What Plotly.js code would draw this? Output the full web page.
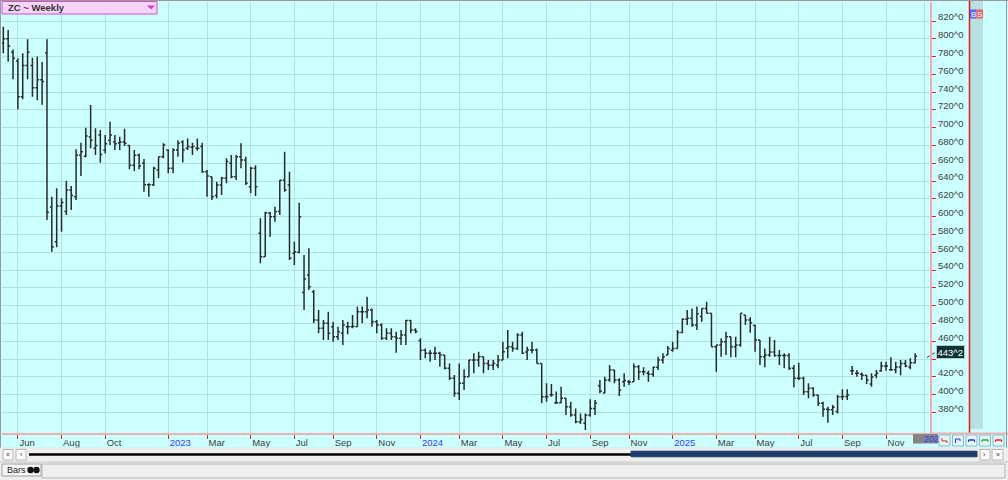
<!DOCTYPE html>
<html><head><meta charset="utf-8">
<script src="https://cdn.plot.ly/plotly-3.0.1.min.js"></script>
<style>html,body{margin:0;padding:0;background:#ccffff;overflow:hidden}#chart{width:1008px;height:480px}</style>
</head><body><div id="chart"></div>
<script>
// ---- DATA (weekly OHLC, ZC continuous, cents) ----
const firstWeek = '2022-05-13';
const opens = [
795,800,785,775,735,770,770,745,754,784,
611,572,612,606,630,622.5,669,668,690,677,
692,675,686,684,683,684,680,658,669,660,
636,636,652.5,667.5,675,654.5,675,684,677,678,
677,679,650.6,645,624,635.7,643.2,660,645,667.5,
663.8,633.8,654.5,581.4,555,604,600,606,641,635.7,
559,560,515,534.5,
515.8,484,474.6,480.3,476.4,465,469,476.4,476.4,476.4,
493.3,493.3,495.2,482,478.3,463.4,469,465,463.4,467,
483.3,472.7,461,450,446.5,446.5,446.5,444.6,429.7,418.4,
401.6,412.8,420.3,439,439,442.7,435.2,433,433,439,
452.1,454,452,467,448,450.2,450.2,435.2,397.8,400,
391,391,396,386.5,377.2,
369.7,368,377.2,384.6,410,402,416.5,427.8,416.5,414.6,
414.6,414.6,431.5,425.9,424,423,430.8,439,444.6,450,
452,470,484.7,485.8,478.3,488,497,491.5,454,455.9,
459.6,465,454,455.9,489.6,484,478,461.5,442.7,444.6,
448,444,444,444,429.7,418.4,418.4,403.4,407.2,399.6,
390.3,383.6,383,381,397.8,398,427,424,423,422,
412,422,427,432.3,428,428,431,435.2,431,436];
const highs = [
813.6,809.9,788,778,783.7,799.4,778.8,780,774,799.4,
622.5,632,620.7,640.5,634.6,675.8,683.3,700,725.6,699.4,
697.5,692,706.8,692,690,699,680.6,675,671,665,
637.6,656.3,667.5,682.5,675.8,677,686,686,688,683.3,
688,683.3,652.5,645,639.4,645,665.7,669.4,669.4,682.5,
667.5,656.3,658,598.3,605.7,605.7,611.3,641.3,673,650.6,
572,615.8,557,564.5,
517.7,495.2,484,493.3,482,476.4,484,482,489.6,499,
499,510,497,484,480.3,474.6,474.6,470.8,472.7,484,
484,474.6,463.4,452,450.2,454,448.3,444.6,435.2,422.1,
435.2,428.5,439,446.5,448.3,442.7,439,439,444.6,459.6,
472.7,459.6,469,470.8,454,459.6,452,435.2,412.8,412,
403.5,409,396,392.1,384.6,
379,379,394.8,394,416.5,420.3,433.4,427.8,418.4,424,
416.5,435.2,433.4,430.8,427,431.5,442.7,446.5,454.6,459.6,
472.7,485.8,495.2,497,499,497,504.5,491.5,455.9,463.4,
470.8,465,465,491.5,489.6,487,478.3,461.5,452,465,
461.5,450.2,446.5,446.5,433.4,436,420.3,412.8,408.3,399.6,
392,386.5,388.4,399.6,406,406,432.3,427.8,425,422,
424,427.8,437,437,442,437,439,439,441,446.5];
const lows = [
783.7,774.3,754.5,720.8,732,754.5,735,731,726,596.3,
560.7,565.7,583,602,607.6,618.8,645.8,666.8,677,669.4,
660.8,671,680.6,675,675,679.5,653.3,651.4,653.3,628,
622.5,634.6,643.2,665.7,648.8,648.8,667.5,661,675,669.4,
674.2,649.5,622.5,618.8,620.7,624.4,637.6,643.2,641.3,654.5,
635.7,626.3,623.3,547.7,555,577.6,594.4,602,628,551.4,
545.8,559,495.2,517.7,
480.3,469,461.5,461.5,459.6,461.5,455.9,468,474.6,476.4,
480.3,485.9,476.4,469,461.5,461.5,461.5,447.2,455.9,456,
469,469,439,440.9,437.1,439,431.5,428.5,416.5,397.8,
394,405.3,420.3,424,431.5,424,427.8,427.8,429.7,439,
440.9,448.3,450.2,445.7,439,446.5,435.2,390.3,392.1,397.8,
389.6,390.3,377.2,375.3,367.8,
367,360.3,375.3,377.2,401.6,401.6,414.6,412.8,398.5,409,
411,414.6,416.5,422,414.6,420.3,427.8,435.2,444.6,448.3,
452,469,478.3,476.4,472.7,482,491.5,454,425.9,442.7,
444.6,442,442,454,478.3,469.6,448.3,433.4,430.8,442.7,
442.7,433.4,429.7,427.8,408.3,416.5,399.6,396,397.8,387.3,
375.3,368.5,377.2,379,394,394,422.1,420.3,416.5,412,
409,418.4,425.9,427,427,424,422,430.8,428.5,435.2];
const closes = [
800,792,778,735,770,785,745,754,752,605,
566,612,616,630,624,669.4,673,690.7,686,680,
670,682,692,682,684,682.5,658,669,657,636,
636,654.5,667.5,680.6,654.5,675,682.5,675,679,679,
677,650.6,645.8,622.5,635.7,643.2,662,645,667.5,663.8,
637.6,654.5,633.8,555,604.5,600,606,641,630,553.3,
560.7,600,530,521.4,
484,474.6,480.3,469,465,470.8,478.3,476.4,477,493.3,
493.3,495.2,482,478.3,463.4,469,465,463.4,467,483.3,
472.7,471,450,446.5,446.5,446.5,444.6,429.7,418.4,401.6,
412.8,420.3,439,439,442.7,435.2,433,435,439,448.3,
454,452,467,446.5,450.2,450.2,435.2,397.8,397.8,400,
391,396,386.5,377.2,369.7,
372,377,384.6,390.3,404,416.5,427.8,416.5,405.3,416,
414,431.5,425.9,425.9,423,430.8,439,442.7,452,452,
470,484.7,485.8,478.3,491,497,491.5,454,455.9,459.6,
465.2,454,455.9,491.5,484,481,461.5,442.7,444.6,448,
444,444,444,429.7,418.4,418.4,403.4,407.2,399.6,390.3,
383.6,383,386,397.8,398,399.6,427,424,422,416.5,
420,424,432.3,432.3,428,431,435.2,432.3,436,443.25];

// x-axis ticks (first weekly bar of each labelled month)
const xTickVals = ['2022-06-03','2022-08-05','2022-10-07','2023-01-06','2023-03-03','2023-05-05','2023-07-07','2023-09-01','2023-11-03','2024-01-05','2024-03-01','2024-05-03','2024-07-05','2024-09-06','2024-11-01','2025-01-03','2025-03-07','2025-05-02','2025-07-04','2025-09-05','2025-11-07','2026-01-02'];
const xTickLabels = ['Jun','Aug','Oct','2023','Mar','May','Jul','Sep','Nov','2024','Mar','May','Jul','Sep','Nov','2025','Mar','May','Jul','Sep','Nov',''];
const yTickVals = [380,400,420,440,460,480,500,520,540,560,580,600,620,640,660,680,700,720,740,760,780,800,820];
const yTickLabels = yTickVals.map(v => v + '^0');
const lastPriceLabel = '443^2';
const lastPrice = 443.25;

// weekly dates
const dates = [];
{ const t0 = Date.parse(firstWeek + 'T00:00:00Z');
  for (let i = 0; i < closes.length; i++) dates.push(new Date(t0 + i*7*86400000).toISOString().slice(0,10)); }

const xText = xTickLabels.map(t => /^\d{4}$/.test(t) ? '<span style="color:#3a3aff">'+t+'</span>' : t);

// ---- pixel helpers for frame decorations ----
const L=2,R=930,T=2,B=433;
const px=x=>(x-L)/(R-L), py=y=>(B-y)/(B-T);
function rect(x0,y0,x1,y1,fill,line,lw){return {type:'rect',xref:'paper',yref:'paper',x0:px(x0),x1:px(x1),y0:py(y0),y1:py(y1),fillcolor:fill||'rgba(0,0,0,0)',line:{color:line||'rgba(0,0,0,0)',width:lw===undefined?(line?1:0):lw},layer:'above'};}
function seg(x0,y0,x1,y1,color,w,dash){return {type:'line',xref:'paper',yref:'paper',x0:px(x0),x1:px(x1),y0:py(y0),y1:py(y1),line:{color:color,width:w||1,dash:dash||'solid'},layer:'above'};}
function circ(cx,cy,r,fill){return {type:'circle',xref:'paper',yref:'paper',x0:px(cx-r),x1:px(cx+r),y0:py(cy+r),y1:py(cy-r),fillcolor:fill,line:{color:fill,width:0},layer:'above'};}
function path(pts,fill){return {type:'path',xref:'paper',yref:'paper',path:'M '+pts.map(p=>px(p[0])+','+py(p[1])).join(' L ')+' Z',fillcolor:fill,line:{color:fill,width:0},layer:'above'};}
function txt(x,y,t,size,color,anchor,bold){return {xref:'paper',yref:'paper',x:px(x),y:py(y),text:bold?'<b>'+t+'</b>':t,showarrow:false,xanchor:anchor||'left',yanchor:'middle',font:{family:'Liberation Sans, Arial, sans-serif',size:size,color:color}};}

const shapes = [
  rect(970,0,983,429,'#b7e1e1'),
  seg(969.5,0,969.5,433,'#e81818',1.5),
  seg(930,433.5,1008,433.5,'#f0b0b0',2),
  seg(0,0.5,1008,0.5,'#9a9a9a',1),
  seg(0.5,0,0.5,448,'#9a9a9a',1),
  seg(1006.5,0,1006.5,480,'#9a9a9a',1),
  // title box
  rect(2,1.5,157,14,'#f9d3f9','#cc55cc',1),
  path([[147,5.5],[155,5.5],[151,9.5]],'#d040d0'),
  // B S boxes
  rect(970,9.5,976.3,18.5,'#5565ff'),
  rect(976.3,9.5,983,18.5,'#f06262'),
  // bottom-right time box and buttons
  rect(913,434,938,443.5,'#858585'),
  rect(939,435,950,446,'#e4f6f6','#8fb8c8',1),
  rect(952.5,435,963.5,446,'#e4f6f6','#8fb8c8',1),
  rect(966,435,977,446,'#e4f6f6','#8fb8c8',1),
  rect(979.5,435,990.5,446,'#e4f6f6','#8fb8c8',1),
  rect(993,435,1004,446,'#e4f6f6','#8fb8c8',1),
  seg(942,438,942,441,'#e02020',1), seg(942,441,947,441,'#e02020',1), seg(947,441,947,443,'#e02020',1),
  seg(955.5,439,955.5,443,'#2030e0',1), seg(955.5,439,960,439,'#2030e0',1), seg(960,439,960,441,'#2030e0',1),
  seg(968.5,440,974.5,440,'#2030e0',1.5), seg(968.5,440,968.5,442,'#2030e0',1), seg(974.5,440,974.5,442,'#2030e0',1),
  seg(982,440,988,440,'#20b020',1.5), seg(982,440,982,442,'#20b020',1), seg(988,440,988,442,'#20b020',1),
  seg(995.5,440,1001.5,440,'#e02020',1.5), seg(995.5,440,995.5,442,'#e02020',1), seg(1001.5,440,1001.5,442,'#e02020',1),
  // scrollbar row
  rect(0,448,1008,461.5,'#efefef'),
  seg(0,448,1008,448,'#d8e8e8',1),
  rect(3,449.5,13,460,'#fbfbfb','#b4b4b4',1),
  rect(16,449.5,26,460,'#fbfbfb','#b4b4b4',1),
  rect(29,453.3,632,455.7,'#000000'),
  rect(631,451.2,977,456.8,'#1f3d6b','#1f3d6b',1),
  rect(980,449.5,990,460,'#fbfbfb','#b4b4b4',1),
  rect(992,449.5,1003,460,'#fbfbfb','#b4b4b4',1),
  // bottom panel
  rect(0,461.5,1008,480,'#efefef'),
  seg(0,462,1008,462,'#c4c4c4',1),
  rect(2,464,41,476,'#f6f6f6','#a0a0a0',1),
  rect(42,464,1005,478,'rgba(0,0,0,0)','#b4b4b4',1),
  circ(30.5,470,3.2,'#111'), circ(36.5,470,3.2,'#111'),
  // last price connector
  seg(927,357.5,936.5,351.5,'#333333',1,'dot')
];

const annotations = [
  txt(6,8,'ZC ~ Weekly',9.5,'#333333','left',true),
  txt(973.2,14,'B',8,'#ffffff','center'),
  txt(979.7,14,'S',8,'#ffffff','center'),
  txt(921.5,439.2,'202',9,'#3a3aff','left'),
  txt(8,454.8,'«',7,'#333','center'), txt(21,454.8,'‹',7,'#333','center'),
  txt(985,454.8,'›',7,'#333','center'), txt(997.5,454.8,'»',7,'#333','center'),
  txt(5,470,'Bars',9,'#222','left'),
  {xref:'paper',yref:'paper',x:px(950.5),y:py(351.7),text:lastPriceLabel,showarrow:false,xanchor:'center',yanchor:'middle',
   font:{family:'Liberation Sans, Arial, sans-serif',size:9.5,color:'#ffffff'},bgcolor:'#0c3434',bordercolor:'#b8c8c8',borderwidth:1,borderpad:0.5}
];

const trace = {
  type:'ohlc', x:dates, open:opens, high:highs, low:lows, close:closes,
  increasing:{line:{color:'#2a2a2a',width:1.5}}, decreasing:{line:{color:'#2a2a2a',width:1.5}},
  tickwidth:0.4, hoverinfo:'skip', showlegend:false
};

const font = {family:'Liberation Sans, Arial, sans-serif',size:9.5,color:'#404040'};
const layout = {
  width:1008, height:480,
  margin:{l:L,r:1008-R,t:T,b:480-B,pad:0},
  paper_bgcolor:'#ccffff', plot_bgcolor:'#ccffff',
  showlegend:false,
  xaxis:{type:'date', range:['2022-05-11 02:00','2026-01-09 10:00'], rangeslider:{visible:false},
    tickmode:'array', tickvals:xTickVals, ticktext:xText, ticks:'outside', ticklen:4, tickcolor:'#e02020', tickwidth:1,
    ticklabelposition:'outside right', tickfont:font,
    showline:true, linecolor:'#f0b0b0', linewidth:2, showgrid:true, gridcolor:'#b0e0e0', gridwidth:1, zeroline:false, fixedrange:true},
  yaxis:{side:'right', range:[356.96,841.35], tickmode:'array', tickvals:yTickVals, ticktext:yTickLabels,
    ticks:'outside', ticklen:4, tickcolor:'#e02020', tickwidth:1, ticklabelshift:-4, tickfont:font,
    showline:true, linecolor:'#f0a8a8', linewidth:2, showgrid:true, gridcolor:'#b0e0e0', gridwidth:1, zeroline:false, fixedrange:true},
  shapes:shapes, annotations:annotations
};
Plotly.newPlot('chart',[trace],layout,{staticPlot:true,displayModeBar:false});
</script></body></html>
